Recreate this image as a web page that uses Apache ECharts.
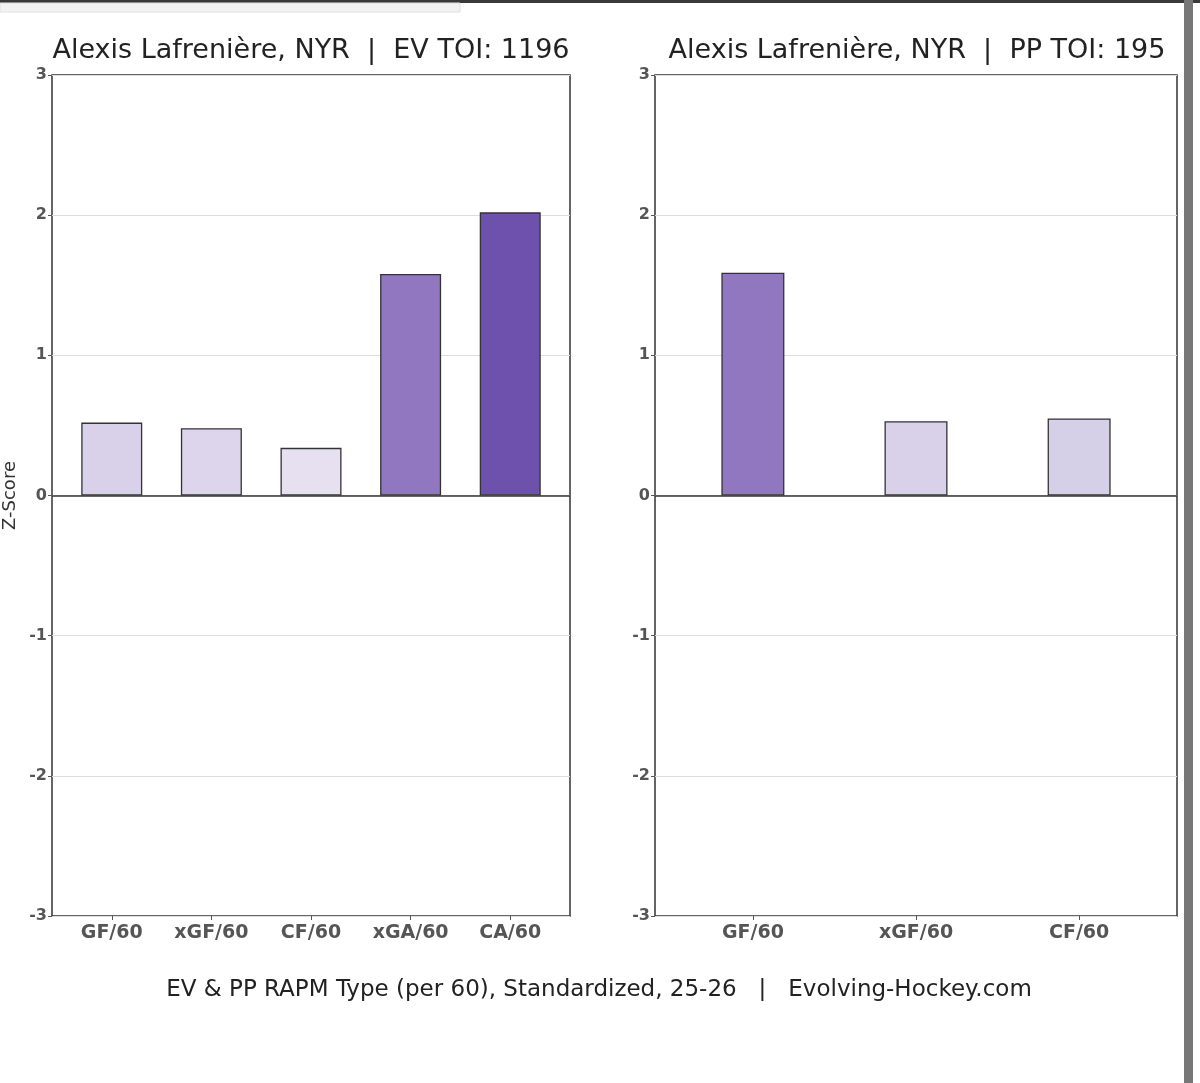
<!DOCTYPE html>
<html>
<head>
<meta charset="utf-8">
<script src="https://cdn.jsdelivr.net/npm/echarts@6/dist/echarts.min.js"></script>
<style>
html,body{margin:0;padding:0;background:#fff;}
#chart{width:1200px;height:1083px;}
</style>
</head>
<body>
<div id="chart"></div>
<script>
const evCategories = ['GF/60', 'xGF/60', 'CF/60', 'xGA/60', 'CA/60'];
const evValues = [0.52, 0.48, 0.34, 1.58, 2.02];
const ppCategories = ['GF/60', 'xGF/60', 'CF/60'];
const ppValues = [1.59, 0.53, 0.55];
const evTitle = 'Alexis Lafrenière, NYR  |  EV TOI: 1196';
const ppTitle = 'Alexis Lafrenière, NYR  |  PP TOI: 195';
const caption = 'EV & PP RAPM Type (per 60), Standardized, 25-26   |   Evolving-Hockey.com';
const yName = 'Z-Score';
const yMin = -3, yMax = 3, yStep = 1;

const evColors = ['#d9d0e9', '#ddd5ec', '#e6e0f1', '#9077c0', '#6e50ad'];
const ppColors = ['#9077c0', '#d9d0e9', '#d6cfe8'];

const FONT = 'DejaVu Sans';
const chart = echarts.init(document.getElementById('chart'), null, {renderer: 'canvas'});

function yAxisCfg(idx, withName) {
  return {
    type: 'value', gridIndex: idx, min: yMin, max: yMax, interval: yStep, position: 'left',
    name: withName ? yName : '',
    nameLocation: 'middle', nameGap: 33, nameRotate: 90,
    nameTextStyle: {fontFamily: FONT, fontSize: 18, color: '#333'},
    axisLine: {show: false, onZero: false},
    axisTick: {show: true, length: 4, lineStyle: {color: '#555', width: 1}},
    axisLabel: {fontFamily: FONT, fontSize: 16, fontWeight: 'bold', color: '#555', margin: 5},
    splitLine: {show: true, lineStyle: {color: '#dddddd', width: 1}}
  };
}
function xAxisCfg(idx, cats) {
  const idxs = cats.map((c, i) => i);
  return {
    type: 'value', gridIndex: idx, min: -0.6, max: cats.length - 0.4, position: 'bottom',
    axisLine: {show: false, onZero: false},
    axisTick: {show: true, customValues: idxs, length: 4, lineStyle: {color: '#555', width: 1}},
    axisLabel: {customValues: idxs, formatter: v => cats[Math.round(v)],
      fontFamily: FONT, fontSize: 19, fontWeight: 'bold', color: '#555', margin: 8},
    splitLine: {show: false}
  };
}
function barSeries(idx, vals, cols, w) {
  return {
    type: 'bar', xAxisIndex: idx, yAxisIndex: idx, barWidth: w,
    data: vals.map((v, i) => ({value: [i, v], itemStyle: {color: cols[i]}})),
    itemStyle: {borderColor: '#333', borderWidth: 1.3},
    emphasis: {disabled: true},
    z: 3,
    markLine: {
      silent: true, symbol: 'none', label: {show: false},
      lineStyle: {color: '#333', width: 1.6, type: 'solid'},
      data: [{yAxis: 0}], z: 4
    }
  };
}

chart.setOption({
  animation: false,
  backgroundColor: '#ffffff',
  title: [
    {text: evTitle, left: 306, top: 32, textAlign: 'center',
     textStyle: {fontFamily: FONT, fontSize: 27, fontWeight: 'normal', color: '#222'}},
    {text: ppTitle, left: 912, top: 32, textAlign: 'center',
     textStyle: {fontFamily: FONT, fontSize: 27, fontWeight: 'normal', color: '#222'}},
    {text: caption, left: 594, top: 974, textAlign: 'center',
     textStyle: {fontFamily: FONT, fontSize: 23, fontWeight: 'normal', color: '#222'}}
  ],
  grid: [
    {left: 50, right: 630, top: 75, bottom: 167, show: true, borderColor: '#333', borderWidth: 1.5, backgroundColor: 'transparent'},
    {left: 655, right: 23, top: 75, bottom: 167, show: true, borderColor: '#333', borderWidth: 1.5, backgroundColor: 'transparent'}
  ],
  xAxis: [xAxisCfg(0, evCategories), xAxisCfg(1, ppCategories)],
  yAxis: [yAxisCfg(0, true), yAxisCfg(1, false)],
  series: [barSeries(0, evValues, evColors, 61), barSeries(1, ppValues, ppColors, 63)],
  graphic: [
    {type: 'rect', shape: {x: 0, y: 0, width: 1200, height: 3}, style: {fill: '#3a3a3a'}, silent: true},
    {type: 'rect', shape: {x: 0, y: 3, width: 460, height: 9}, style: {fill: '#f3f3f3', stroke: '#e0e0e0', lineWidth: 1}, silent: true},
    {type: 'rect', shape: {x: 1184, y: 0, width: 9, height: 1083}, style: {fill: '#777777'}, silent: true}
  ]
});
</script>
</body>
</html>
